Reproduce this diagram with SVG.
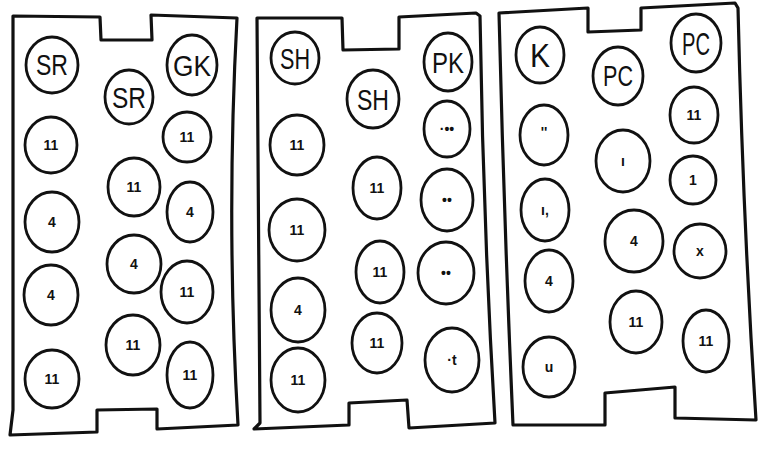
<svg xmlns="http://www.w3.org/2000/svg" width="762" height="450" viewBox="0 0 762 450">
<style>
.bg{fill:#ffffff}
.panel{fill:none;stroke:#111;stroke-width:3.2;stroke-linejoin:round;stroke-linecap:round}
.node ellipse{fill:none;stroke:#111;stroke-width:2.8}
.hdr{font-family:"Liberation Sans",Arial,sans-serif;font-size:29px;fill:#111;text-anchor:middle}
.mk{font-family:"Liberation Sans",Arial,sans-serif;font-size:14px;font-weight:bold;fill:#111;text-anchor:middle}
</style>
<rect class="bg" x="0" y="0" width="762" height="450"/>
<g id="panels">
<path id="panel1" class="panel" d="M13,16 L100,17 L101,40 L152,40 L151,15 L237,18 Q226,220 238,425 L157,429 L157,409 L97,410 L97,432 L10,435 L13,410 Z"/>
<path id="panel2" class="panel" d="M257,18 L342,18 L343,50 L399,49 L399,17 L476,13 L480,16 Q483,220 495,423 L409,428 L407,400 L349,403 L349,425 L254,429 L260,423 Z"/>
<path id="panel3" class="panel" d="M499,13 L588,8 L588,32 L641,30 L641,8 L735,3 L738,8 Q743,220 756,420 L675,418 L675,387 L605,393 L605,425 L513,425 Q504,220 499,13 Z"/>
</g>
<g id="connectors"/>
<!-- Panel 1 -->
<g id="p1-sr1" class="node"><ellipse cx="52" cy="65" rx="26" ry="28"/><text class="hdr" x="52" y="75" textLength="32" lengthAdjust="spacingAndGlyphs">SR</text></g>
<g id="p1-sr2" class="node"><ellipse cx="129" cy="97" rx="24" ry="27"/><text class="hdr" x="129" y="108" textLength="34" lengthAdjust="spacingAndGlyphs">SR</text></g>
<g id="p1-gk" class="node"><ellipse cx="192" cy="65" rx="25" ry="30"/><text class="hdr" x="192" y="76" textLength="38" lengthAdjust="spacingAndGlyphs">GK</text></g>
<g id="p1-a2" class="node"><ellipse cx="51" cy="145" rx="26" ry="28"/><text class="mk" x="51" y="150">11</text></g>
<g id="p1-b2" class="node"><ellipse cx="134" cy="187" rx="26" ry="29"/><text class="mk" x="134" y="192">11</text></g>
<g id="p1-c2" class="node"><ellipse cx="187" cy="137" rx="24" ry="25"/><text class="mk" x="187" y="142">11</text></g>
<g id="p1-a3" class="node"><ellipse cx="52" cy="222" rx="27" ry="30"/><text class="mk" x="52" y="227">4</text></g>
<g id="p1-b3" class="node"><ellipse cx="134" cy="264" rx="27" ry="29"/><text class="mk" x="134" y="269">4</text></g>
<g id="p1-c3" class="node"><ellipse cx="190" cy="212" rx="23" ry="30"/><text class="mk" x="190" y="217">4</text></g>
<g id="p1-a4" class="node"><ellipse cx="51" cy="295" rx="27" ry="30"/><text class="mk" x="51" y="300">4</text></g>
<g id="p1-b4" class="node"><ellipse cx="133" cy="345" rx="27" ry="30"/><text class="mk" x="133" y="350">11</text></g>
<g id="p1-c4" class="node"><ellipse cx="187" cy="292" rx="26" ry="31"/><text class="mk" x="187" y="297">11</text></g>
<g id="p1-a5" class="node"><ellipse cx="52" cy="379" rx="27" ry="29"/><text class="mk" x="52" y="384">11</text></g>
<g id="p1-c5" class="node"><ellipse cx="190" cy="375" rx="23" ry="33"/><text class="mk" x="190" y="380">11</text></g>
<!-- Panel 2 -->
<g id="p2-sh1" class="node"><ellipse cx="295" cy="58" rx="24" ry="26"/><text class="hdr" x="295" y="69" textLength="30" lengthAdjust="spacingAndGlyphs">SH</text></g>
<g id="p2-sh2" class="node"><ellipse cx="373" cy="99" rx="26" ry="29"/><text class="hdr" x="373" y="110" textLength="32" lengthAdjust="spacingAndGlyphs">SH</text></g>
<g id="p2-pk" class="node"><ellipse cx="448" cy="62" rx="24" ry="29"/><text class="hdr" x="448" y="73" textLength="32" lengthAdjust="spacingAndGlyphs">PK</text></g>
<g id="p2-a2" class="node"><ellipse cx="297" cy="145" rx="27" ry="30"/><text class="mk" x="297" y="150">11</text></g>
<g id="p2-b2" class="node"><ellipse cx="377" cy="188" rx="24" ry="31"/><text class="mk" x="377" y="193">11</text></g>
<g id="p2-c2" class="node"><ellipse cx="447" cy="129" rx="23" ry="28"/><text class="mk" x="447" y="134">·••</text></g>
<g id="p2-a3" class="node"><ellipse cx="297" cy="230" rx="28" ry="31"/><text class="mk" x="297" y="235">11</text></g>
<g id="p2-b3" class="node"><ellipse cx="380" cy="272" rx="24" ry="31"/><text class="mk" x="380" y="277">11</text></g>
<g id="p2-c3" class="node"><ellipse cx="447" cy="200" rx="26" ry="31"/><text class="mk" x="447" y="205">••</text></g>
<g id="p2-a4" class="node"><ellipse cx="298" cy="310" rx="27" ry="32"/><text class="mk" x="298" y="315">4</text></g>
<g id="p2-b4" class="node"><ellipse cx="377" cy="343" rx="25" ry="30"/><text class="mk" x="377" y="348">11</text></g>
<g id="p2-c4" class="node"><ellipse cx="446" cy="273" rx="28" ry="31"/><text class="mk" x="446" y="278">••</text></g>
<g id="p2-a5" class="node"><ellipse cx="298" cy="380" rx="27" ry="32"/><text class="mk" x="298" y="385">11</text></g>
<g id="p2-c5" class="node"><ellipse cx="452" cy="360" rx="27" ry="32"/><text class="mk" x="452" y="365">·t</text></g>
<!-- Panel 3 -->
<g id="p3-k" class="node"><ellipse cx="540" cy="55" rx="24" ry="28"/><text class="hdr" x="540" y="67" textLength="20" lengthAdjust="spacingAndGlyphs" style="font-size:34px">K</text></g>
<g id="p3-pc1" class="node"><ellipse cx="618" cy="76" rx="25" ry="29"/><text class="hdr" x="618" y="86" textLength="30" lengthAdjust="spacingAndGlyphs">PC</text></g>
<g id="p3-pc2" class="node"><ellipse cx="696" cy="43" rx="25" ry="29"/><text class="hdr" x="696" y="55" textLength="28" lengthAdjust="spacingAndGlyphs" style="font-size:32px">PC</text></g>
<g id="p3-a2" class="node"><ellipse cx="544" cy="135" rx="24" ry="30"/><text class="mk" x="544" y="137">''</text></g>
<g id="p3-b2" class="node"><ellipse cx="623" cy="161" rx="27" ry="31"/><text class="mk" x="623" y="166">ı</text></g>
<g id="p3-c2" class="node"><ellipse cx="694" cy="115" rx="24" ry="28"/><text class="mk" x="694" y="120">11</text></g>
<g id="p3-a3" class="node"><ellipse cx="545" cy="210" rx="24" ry="31"/><text class="mk" x="545" y="215">ı,</text></g>
<g id="p3-b3" class="node"><ellipse cx="634" cy="241" rx="29" ry="31"/><text class="mk" x="634" y="246">4</text></g>
<g id="p3-c3" class="node"><ellipse cx="693" cy="180" rx="23" ry="24"/><text class="mk" x="693" y="185">1</text></g>
<g id="p3-a4" class="node"><ellipse cx="549" cy="281" rx="24" ry="31"/><text class="mk" x="549" y="286">4</text></g>
<g id="p3-b4" class="node"><ellipse cx="636" cy="322" rx="26" ry="31"/><text class="mk" x="636" y="327">11</text></g>
<g id="p3-c4" class="node"><ellipse cx="700" cy="251" rx="26" ry="27"/><text class="mk" x="700" y="256">x</text></g>
<g id="p3-a5" class="node"><ellipse cx="549" cy="367" rx="26" ry="30"/><text class="mk" x="549" y="372">u</text></g>
<g id="p3-c5" class="node"><ellipse cx="706" cy="341" rx="23" ry="31"/><text class="mk" x="706" y="346">11</text></g>
</svg>
